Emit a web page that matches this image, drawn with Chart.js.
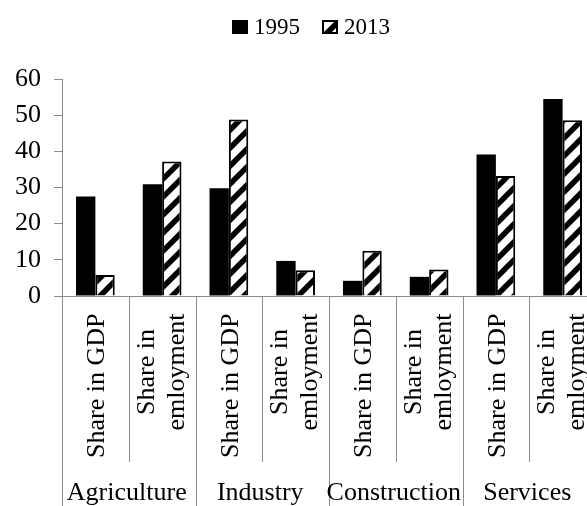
<!DOCTYPE html>
<html>
<head>
<meta charset="utf-8">
<script src="https://cdn.jsdelivr.net/npm/chart.js@4.4.1/dist/chart.umd.min.js"></script>
<style>
  html, body { margin: 0; padding: 0; background: #fff; overflow: hidden; }
  #wrap { width: 587px; height: 506px; overflow: hidden; }
</style>
</head>
<body>
<div id="wrap">
  <canvas id="myChart" width="596" height="506" style="width:596px;height:506px"></canvas>
</div>
<script>
// sectors and sub-categories
var sectors = ['Agriculture', 'Industry', 'Construction', 'Services'];
var subLabels = [['Share in GDP'], ['Share in', 'emloyment']];
var categories = [];
sectors.forEach(function (s) {
  subLabels.forEach(function (sub) { categories.push(s + ' - ' + sub.join(' ')); });
});

var years = ['1995', '2013'];
var values1995 = [27.5, 30.9, 29.8, 9.7, 4.2, 5.3, 39.1, 54.5];
var values2013 = [5.8, 37.2, 48.8, 7.1, 12.5, 7.3, 33.2, 48.6];
var yTicks = [0, 10, 20, 30, 40, 50, 60];

var FONT = "'Liberation Serif', 'Times New Roman', serif";
var GRAY = '#8c8c8c';

function makeStripes() {
  var s = 18;
  var c = document.createElement('canvas');
  c.width = s; c.height = s;
  var g = c.getContext('2d');
  g.fillStyle = '#fff';
  g.fillRect(0, 0, s, s);
  g.strokeStyle = '#000';
  g.lineWidth = 5.5;
  g.beginPath();
  g.moveTo(-3, s + 3); g.lineTo(s + 3, -3);
  g.moveTo(-3, 3); g.lineTo(3, -3);
  g.moveTo(s - 3, s + 3); g.lineTo(s + 3, s - 3);
  g.stroke();
  return g.createPattern(c, 'repeat');
}
var stripes = makeStripes();

// draws the two level category axis and the legend
var extras = {
  id: 'extras',
  afterDraw: function (chart) {
    var ctx = chart.ctx;
    var x = chart.scales.x;
    var top = chart.chartArea.bottom;
    var half = (x.getPixelForValue(1) - x.getPixelForValue(0)) / 2;
    ctx.save();
    ctx.strokeStyle = GRAY;
    ctx.lineWidth = 1;
    for (var i = 0; i <= categories.length; i++) {
      var bx = Math.round(x.getPixelForValue(i) - half) + 0.5;
      var isGroup = i % subLabels.length == 0;
      ctx.beginPath();
      ctx.moveTo(bx, top);
      ctx.lineTo(bx, isGroup ? 506 : 462);
      ctx.stroke();
    }
    ctx.fillStyle = '#000';
    ctx.font = '26px ' + FONT;
    for (var j = 0; j < categories.length; j++) {
      var cx = x.getPixelForValue(j);
      var lines = subLabels[j % subLabels.length];
      ctx.save();
      if (lines.length == 1) {
        ctx.translate(cx + 1, 458);
        ctx.rotate(-Math.PI / 2);
        ctx.textAlign = 'left';
        ctx.textBaseline = 'middle';
        ctx.fillText(lines[0], 0, 1);
      } else {
        ctx.translate(cx, 372);
        ctx.rotate(-Math.PI / 2);
        ctx.textAlign = 'center';
        ctx.textBaseline = 'middle';
        ctx.fillText(lines[0], 0, -15);
        ctx.fillText(lines[1], 0, 15);
      }
      ctx.restore();
    }
    ctx.textAlign = 'center';
    ctx.textBaseline = 'alphabetic';
    sectors.forEach(function (s, k) {
      var a = x.getPixelForValue(k * 2) - half;
      var b = x.getPixelForValue(k * 2 + 1) + half;
      ctx.fillText(s, (a + b) / 2 - 2, 500);
    });

    // legend
    ctx.font = '23px ' + FONT;
    ctx.textAlign = 'left';
    ctx.textBaseline = 'middle';
    var lx = 232;
    chart.data.datasets.forEach(function (ds) {
      ctx.fillStyle = ds.backgroundColor;
      ctx.fillRect(lx, 20, 16, 14);
      if (ds.borderWidth) {
        ctx.strokeStyle = '#000';
        ctx.lineWidth = 2;
        ctx.strokeRect(lx + 1, 21, 14, 12);
      }
      ctx.fillStyle = '#000';
      ctx.fillText(ds.label, lx + 22, 28);
      lx += 22 + ctx.measureText(ds.label).width + 22;
    });
    ctx.restore();
  }
};

var chart = new Chart(document.getElementById('myChart').getContext('2d'), {
  type: 'bar',
  data: {
    labels: categories,
    datasets: [
      { label: years[0], data: values1995, backgroundColor: '#000', borderWidth: 0 },
      { label: years[1], data: values2013, backgroundColor: stripes, borderColor: '#000', borderWidth: 2 }
    ]
  },
  options: {
    responsive: false,
    animation: false,
    events: [],
    layout: { padding: { top: 79, left: 0, right: 0, bottom: 0 } },
    datasets: { bar: { categoryPercentage: 0.58, barPercentage: 1 } },
    plugins: { legend: { display: false }, tooltip: { enabled: false } },
    scales: {
      x: {
        grid: { display: false },
        ticks: { display: false },
        border: { display: true, color: GRAY, width: 1 },
        afterFit: function (scale) { scale.height = 210; }
      },
      y: {
        min: 0,
        max: 60,
        afterBuildTicks: function (scale) {
          scale.ticks = yTicks.map(function (v) { return { value: v }; });
        },
        grid: { drawOnChartArea: false, drawTicks: true, tickLength: 8, color: GRAY },
        border: { display: true, color: GRAY, width: 1 },
        ticks: { color: '#000', font: { family: FONT, size: 26 }, padding: 13 },
        afterFit: function (scale) { scale.width = 62; }
      }
    }
  },
  plugins: [extras]
});
</script>
</body>
</html>
